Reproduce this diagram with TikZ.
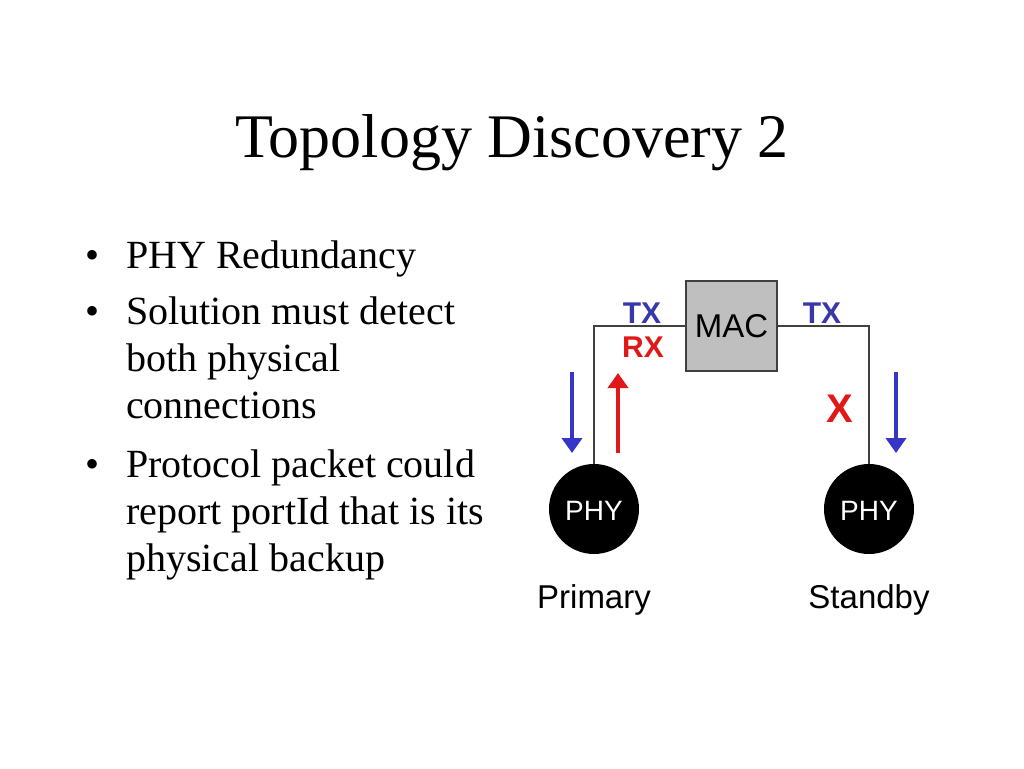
\documentclass[tikz,border=0pt]{standalone}
\usepackage{fontspec}
\setmainfont{Liberation Serif}
\newfontfamily\diagfont{Liberation Sans}
\usetikzlibrary{arrows.meta}

\definecolor{txblue}{HTML}{3838A8}
\definecolor{arrblue}{HTML}{3535C8}
\definecolor{rxred}{HTML}{E01818}
\definecolor{wire}{HTML}{404040}

\tikzset{
    bullettext/.style={anchor=base west, inner sep=0pt, font=\fontsize{40}{47}\selectfont},
    bulletdot/.style={anchor=base, inner sep=0pt, font=\fontsize{40}{47}\selectfont},
    macbox/.style={draw=wire, line width=1.2pt, fill=gray!50, minimum width=91pt, minimum height=90pt},
    phycircle/.style={circle, fill=black, minimum size=90pt, inner sep=0pt},
    wireline/.style={draw=wire, line width=1.3pt},
    flow/.style={line width=4pt, -{Triangle[width=20pt, length=15pt]}},
    sigtext/.style={anchor=base, inner sep=0pt, font=\diagfont\bfseries\fontsize{30}{30}\selectfont}
}

\begin{document}
\begin{tikzpicture}[x=1pt, y=-1pt]
    \useasboundingbox (0,0) rectangle (1024,768);

    % title
    \node[anchor=base, inner sep=0pt, font=\fontsize{62}{62}\selectfont] (title) at (512,157) {Topology Discovery 2};

    % bullets
    \node[bulletdot] (dot1) at (93,268) {•};
    \node[bullettext] (b1) at (126,268) {PHY Redundancy};
    \node[bulletdot] (dot2) at (93,324) {•};
    \node[bullettext] (b2a) at (126,324) {Solution must detect};
    \node[bullettext] (b2b) at (126,371) {both physical};
    \node[bullettext] (b2c) at (126,418) {connections};
    \node[bulletdot] (dot3) at (93,477) {•};
    \node[bullettext] (b3a) at (126,477) {Protocol packet could};
    \node[bullettext] (b3b) at (126,524) {report portId that is its};
    \node[bullettext] (b3c) at (126,571) {physical backup};

    % MAC and PHYs
    \node[macbox] (mac) at (731.5,326) {};
    \node[anchor=base, inner sep=0pt, font=\diagfont\fontsize{33}{33}\selectfont] (maclabel) at (731.5,337) {MAC};
    \node[phycircle] (phyP) at (594,509) {};
    \node[phycircle] (phyS) at (869,509) {};
    \node[anchor=base, inner sep=0pt, text=white, font=\diagfont\fontsize{28}{28}\selectfont] (phyPlabel) at (594,520) {PHY};
    \node[anchor=base, inner sep=0pt, text=white, font=\diagfont\fontsize{28}{28}\selectfont] (phySlabel) at (869,520) {PHY};

    \draw[wireline] (mac.west) -| (phyP.north);
    \draw[wireline] (mac.east) -| (phyS.north);

    % signal labels
    \node[sigtext, text=txblue] (txP) at (642,323) {TX};
    \node[sigtext, text=rxred] (rxP) at (643,357) {RX};
    \node[sigtext, text=txblue] (txS) at (822,323) {TX};
    \node[sigtext, text=rxred, font=\diagfont\bfseries\fontsize{40}{40}\selectfont] (noRx) at (840,422) {X};

    % flow arrows
    \coordinate (txPtop) at (572,372);
    \coordinate (txPbot) at (572,453);
    \coordinate (rxPbot) at (618,453);
    \coordinate (rxPtop) at (618,373);
    \coordinate (txStop) at (896,372);
    \coordinate (txSbot) at (896,453);
    \draw[flow, arrblue] (txPtop) -- (txPbot);
    \draw[flow, rxred] (rxPbot) -- (rxPtop);
    \draw[flow, arrblue] (txStop) -- (txSbot);

    % captions
    \node[anchor=base, inner sep=0pt, font=\diagfont\fontsize{33}{33}\selectfont] (primary) at (594,608) {Primary};
    \node[anchor=base, inner sep=0pt, font=\diagfont\fontsize{33}{33}\selectfont] (standby) at (869,608) {Standby};
\end{tikzpicture}
\end{document}
